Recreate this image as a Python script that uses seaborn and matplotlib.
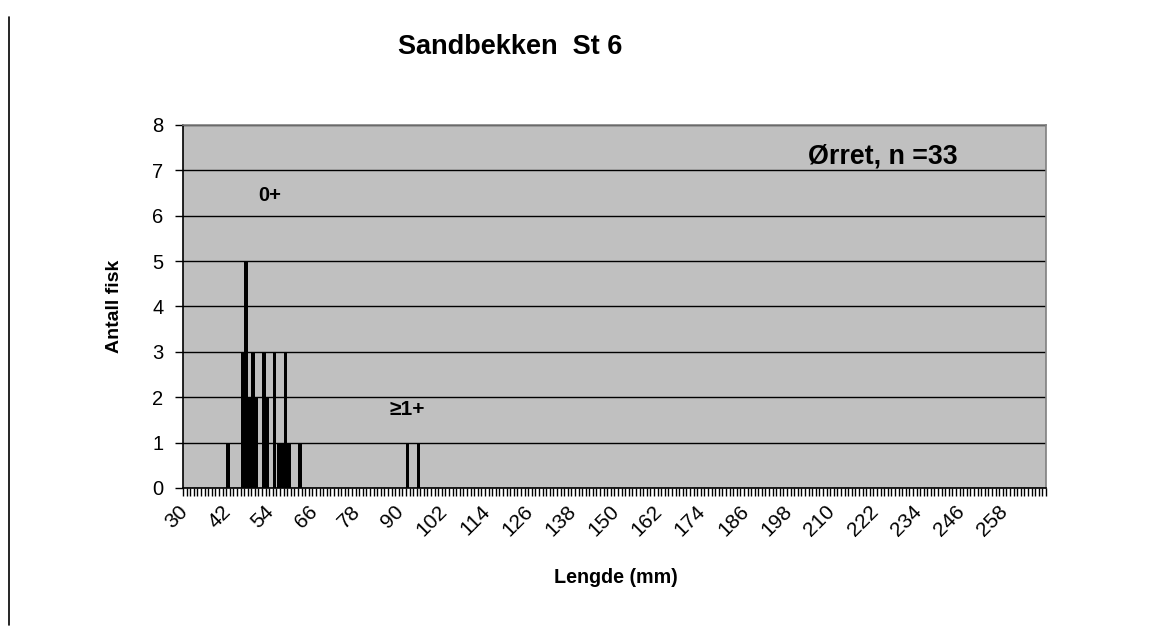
import numpy as np
import pandas as pd
import matplotlib
matplotlib.use("Agg")
import matplotlib.pyplot as plt
from matplotlib.lines import Line2D
from matplotlib.ticker import FixedLocator
import seaborn as sns

# observed lengths (mm) and number of fish
lengths = [42, 46, 47, 48, 49, 50, 52, 53, 55, 56, 57, 58, 59, 62, 92, 95]
counts = [1, 3, 5, 2, 3, 2, 3, 2, 3, 1, 1, 3, 1, 1, 1, 1]

# category axis 30..269 mm, label every 12 mm
first_len = 30
last_len = 269
label_step = 12

title = "Sandbekken  St 6"
species_label = "Ørret, n =33"

sns.set_style("white")
plt.rcParams["font.family"] = ["Liberation Sans", "DejaVu Sans"]
plt.rcParams["text.color"] = "black"
plt.rcParams["xtick.color"] = "black"
plt.rcParams["ytick.color"] = "black"
plt.rcParams["axes.labelcolor"] = "black"

all_lengths = list(range(first_len, last_len + 1))
df = pd.DataFrame({"length": lengths, "count": counts})
df = df.set_index("length").reindex(all_lengths, fill_value=0).reset_index()

fig = plt.figure(figsize=(11.73, 6.30), dpi=100)
ax = fig.add_axes([0.156, 0.2254, 0.7357, 0.5762])
ax.set_facecolor("#c0c0c0")

sns.barplot(data=df, x="length", y="count", order=all_lengths, color="black",
            saturation=1, width=0.92, ax=ax, edgecolor="black", linewidth=0)

ax.set_xlim(-0.5, len(all_lengths) - 0.5)
ax.set_ylim(0, 8)
ax.set_yticks(range(0, 9))
ax.yaxis.grid(True, color="black", linewidth=1)
ax.set_axisbelow(True)

label_pos = list(range(0, len(all_lengths), label_step))
label_pos = [p for p in label_pos if all_lengths[p] <= 258]
ax.set_xticks(label_pos)
ax.set_xticklabels([str(all_lengths[p]) for p in label_pos], rotation=45,
                   ha="right", va="center", rotation_mode="anchor", fontsize=15)
ax.xaxis.set_minor_locator(FixedLocator(np.arange(-0.5, len(all_lengths), 1)))
ax.tick_params(axis="x", which="major", length=0, pad=15)
ax.tick_params(axis="x", which="minor", length=6, width=1, color="black", direction="out", bottom=True)
ax.tick_params(axis="y", length=6, width=1, color="black", direction="out", left=True,
               labelsize=14.5, pad=8)

for side in ["left", "bottom"]:
    ax.spines[side].set_color("black")
    ax.spines[side].set_linewidth(1.2)
for side in ["top", "right"]:
    ax.spines[side].set_visible(True)
    ax.spines[side].set_color("#808080")
    ax.spines[side].set_linewidth(1.2)

ax.set_xlabel("")
ax.set_ylabel("")

fig.text(0.435, 0.925, title, ha="center", va="center", fontsize=19.5, fontweight="bold")
fig.text(0.098, 0.513, "Antall fisk", ha="center", va="center", rotation=90,
         fontsize=14, fontweight="bold")
fig.text(0.525, 0.083, "Lengde (mm)", ha="center", va="center", fontsize=14.2, fontweight="bold")

ax.text(194.2, 7.31, species_label, ha="center", va="center", fontsize=19.3, fontweight="bold")
ax.text(23.7, 6.45, "0+", ha="center", va="center", fontsize=14.5, fontweight="bold")
ax.text(61.8, 1.72, "≥1+", ha="center", va="center", fontsize=15, fontweight="bold")

fig.add_artist(Line2D([8.5 / 1173, 8.5 / 1173], [1 - 17 / 630, 1 - 625 / 630],
                      color="black", linewidth=1.2, transform=fig.transFigure))

fig.savefig("out.png", dpi=100)
